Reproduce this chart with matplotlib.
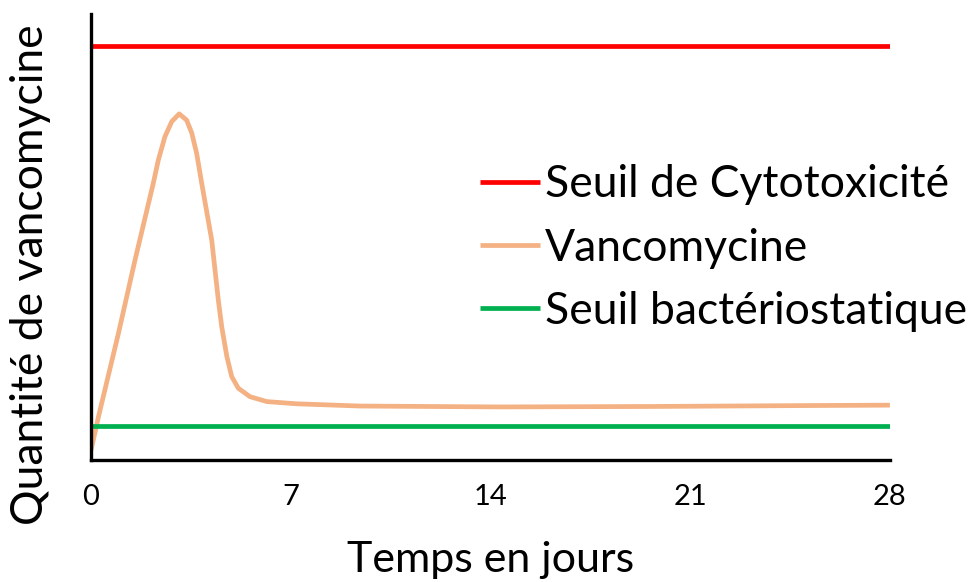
import matplotlib
matplotlib.use("Agg")
import matplotlib.pyplot as plt

plt.rcParams['font.family'] = ['Lato', 'DejaVu Sans']

# Vancomycin level over time (days, arbitrary units)
jours = [0, 0.26, 0.96, 1.54, 2.18, 2.36, 2.59, 2.83, 3.09, 3.35, 3.53, 3.70,
         3.88, 4.23, 4.46, 4.58, 4.76, 4.93, 5.16, 5.57, 6.16, 7.21,
         9.43, 14.33, 19.59, 24.85, 28]
vancomycine = [2.2, 9.7, 28.4, 44.8, 62.0, 67.3, 72.5, 75.9, 77.6, 76.2, 73.3, 68.8,
               62.0, 49.3, 35.9, 29.9, 23.2, 18.7, 16.1, 14.2, 13.1, 12.6,
               12.1, 11.9, 12.0, 12.2, 12.3]

seuil_cytotox = 92.8
seuil_bacterio = 7.6
x_range = [0, 28]
x_ticks = [0, 7, 14, 21, 28]

fig = plt.figure(figsize=(9.79, 5.82), dpi=100)
ax = fig.add_axes([0.093, 0.2096, 0.816, 0.7664])

ax.plot(x_range, [seuil_cytotox, seuil_cytotox], color='#FF0000', lw=3.4,
        label='Seuil de Cytotoxicité', solid_capstyle='butt')
ax.plot(jours, vancomycine, color='#F4B183', lw=3.4, label='Vancomycine',
        solid_capstyle='butt', solid_joinstyle='round')
ax.plot(x_range, [seuil_bacterio, seuil_bacterio], color='#00B050', lw=3.4,
        label='Seuil bactériostatique', solid_capstyle='butt')

ax.set_xlim(0, 28)
ax.set_ylim(0, 100)
ax.set_xticks(x_ticks)
ax.set_xticklabels([str(t) for t in x_ticks])
ax.set_yticks([])
ax.tick_params(axis='x', length=0, pad=17, labelsize=21)

for s in ['top', 'right']:
    ax.spines[s].set_visible(False)
for s in ['left', 'bottom']:
    ax.spines[s].set_linewidth(2.4)
    ax.spines[s].set_color('black')

ax.set_xlabel('Temps en jours', fontsize=31)
ax.xaxis.set_label_coords(0.5, -0.224)
ax.set_ylabel('Quantité de vancomycine', fontsize=32)
ax.yaxis.set_label_coords(-0.076, 0.415)
ax.yaxis.label.set_verticalalignment('center')
ax.xaxis.label.set_verticalalignment('center')

leg = ax.legend(loc='center left', bbox_to_anchor=(0.487, 0.475), frameon=False,
                fontsize=32, handlelength=1.35, handletextpad=0.11,
                labelspacing=0.5, borderpad=0, borderaxespad=0)

fig.savefig('out.png', dpi=100, facecolor='white')
